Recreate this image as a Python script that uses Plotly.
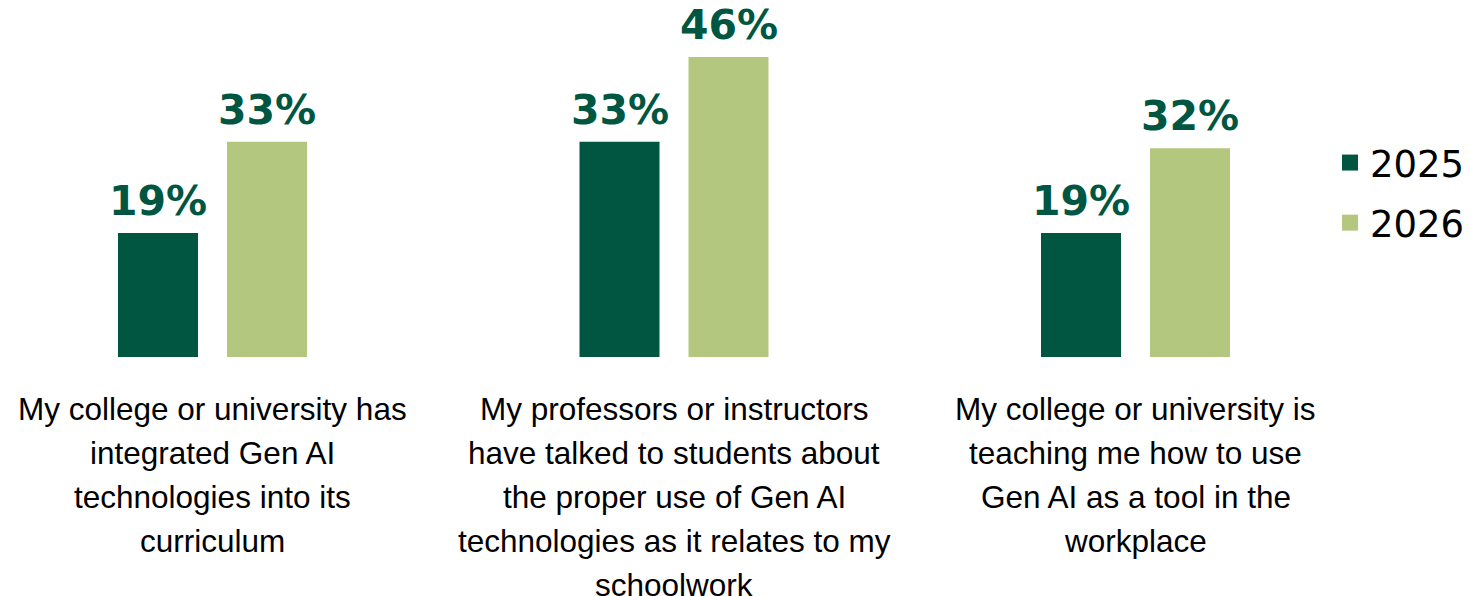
import plotly.graph_objects as go

categories = ["Integrated curriculum", "Professors talked", "Teaching workplace"]
label_lines = [
    ["My college or university has", "integrated Gen AI", "technologies into its", "curriculum"],
    ["My professors or instructors", "have talked to students about", "the proper use of Gen AI",
     "technologies as it relates to my", "schoolwork"],
    ["My college or university is", "teaching me how to use", "Gen AI as a tool in the", "workplace"],
]
series_names = ["2025", "2026"]
values_2025 = [19, 33, 19]
values_2026 = [33, 46, 32]
colors = ["#005641", "#B3C77F"]

PX_PER_CAT = 461.5
BAR_W = 80 / PX_PER_CAT
offsets = [(118 - 212.5) / PX_PER_CAT, (227 - 212.5) / PX_PER_CAT]

fig = go.Figure()
for name, vals, col, off in zip(series_names, [values_2025, values_2026], colors, offsets):
    fig.add_trace(go.Bar(
        x=categories, y=vals, name=name, marker=dict(color=col, line=dict(width=0)),
        width=BAR_W, offset=off, showlegend=False, hoverinfo="skip",
    ))
    fig.add_trace(go.Scatter(
        x=[None], y=[None], mode="markers", name=name, legendgroup=name,
        marker=dict(symbol="square", size=16, color=col), showlegend=True,
    ))
    for cat, v in zip(categories, vals):
        fig.add_annotation(
            x=cat, y=v, xref="x", yref="y", text=f"{v}%", showarrow=False,
            xanchor="center", yanchor="bottom",
            xshift=(off + BAR_W / 2) * PX_PER_CAT, yshift=6,
            font=dict(family="DejaVu Sans", size=41, color="#005641", weight="bold"),
        )

for cat, lines in zip(categories, label_lines):
    for i, line in enumerate(lines):
        fig.add_annotation(
            x=cat, y=0, xref="x", yref="y", text=line, showarrow=False,
            yanchor="middle", xanchor="center", yshift=-(52 + 44 * i),
            font=dict(family="Liberation Sans", size=31.5, color="#000000"),
        )

plot_w = 1320
left = -212.5 / PX_PER_CAT
fig.update_layout(
    width=1471, height=596,
    margin=dict(l=0, r=1471 - plot_w, t=0, b=596 - 357),
    plot_bgcolor="white", paper_bgcolor="white",
    xaxis=dict(type="category", range=[left, left + plot_w / PX_PER_CAT],
               showticklabels=False, showgrid=False, zeroline=False, showline=False, ticks=""),
    yaxis=dict(range=[0, 357 / 6.52], visible=False, showgrid=False, zeroline=False),
    legend=dict(x=1330 / plot_w, xanchor="left", y=1 - 132 / 357, yanchor="top",
                font=dict(family="DejaVu Sans", size=37, color="#000000"),
                traceorder="grouped", tracegroupgap=9, bgcolor="rgba(0,0,0,0)",
                borderwidth=0),
    showlegend=True,
)
fig.write_html("out.html")
